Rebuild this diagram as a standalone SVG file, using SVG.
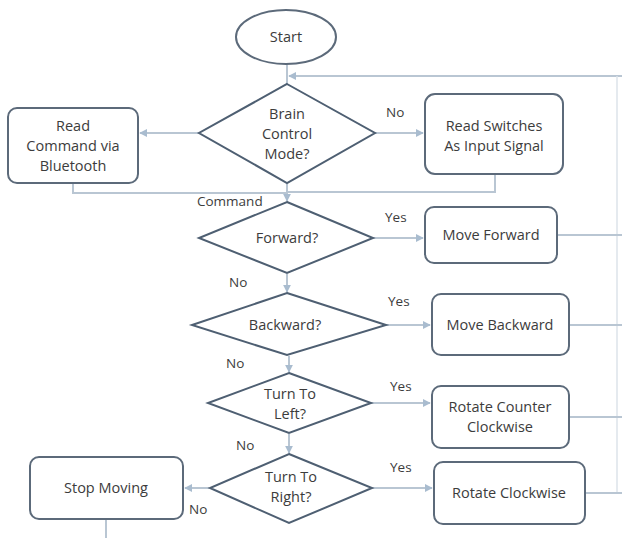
<svg xmlns="http://www.w3.org/2000/svg" width="622" height="538" viewBox="0 0 622 538">
<defs>
<style>
.bg{fill:#ffffff}
.box{fill:#ffffff;stroke:#5c6a7a;stroke-width:2}
.dia{fill:#ffffff;stroke:#4e5f72;stroke-width:2}
.t{font-family:"Open Sans","Noto Sans",sans-serif;font-size:14.5px;fill:#3c3c3c;text-anchor:middle}
.l{font-family:"Open Sans","Noto Sans",sans-serif;font-size:13.5px;fill:#3c3c3c}
.c{fill:none;stroke:#b9c6d3;stroke-width:2}
.f{fill:none;stroke:#dde3ea;stroke-width:1.5}
.ca{fill:none;stroke:#b9c6d3;stroke-width:2;marker-end:url(#ah)}
</style>
<marker id="ah" viewBox="0 0 10 10" refX="9" refY="5" markerWidth="4" markerHeight="4" orient="auto" markerUnits="strokeWidth">
<path d="M0,0 L10,5 L0,10 Z" fill="#a9bccf"/>
</marker>
</defs>
<rect class="bg" x="0" y="0" width="622" height="538"/>
<g id="connectors">
<path class="c" d="M287,64 L287,84"/>
<path class="ca" d="M622,76 L289,76"/>
<path class="f" d="M617,76 L617,493"/>
<path class="ca" d="M199,133 L140,133"/>
<path class="ca" d="M373,133 L423,133"/>
<path class="c" d="M73,184 L73,193 L287,193"/>
<path class="c" d="M495,175 L495,192 L287,192"/>
<path class="ca" d="M287,184 L287,201"/>
<path class="ca" d="M373,238 L423,238"/>
<path class="c" d="M558,235 L622,235"/>
<path class="ca" d="M287,274 L287,292"/>
<path class="ca" d="M386,325 L430,325"/>
<path class="c" d="M570,325 L622,325"/>
<path class="ca" d="M289,356 L289,372"/>
<path class="ca" d="M371,403 L430,403"/>
<path class="c" d="M570,417 L622,417"/>
<path class="ca" d="M289,434 L289,453"/>
<path class="ca" d="M372,488 L432,488"/>
<path class="c" d="M586,493 L622,493"/>
<path class="ca" d="M209,488 L185,488"/>
<path class="c" d="M106,520 L106,538"/>
</g>
<g id="labels">
<text class="l" x="386" y="117">No</text>
<text class="l" x="197" y="206">Command</text>
<text class="l" x="385" y="222">Yes</text>
<text class="l" x="229" y="287">No</text>
<text class="l" x="388" y="306">Yes</text>
<text class="l" x="226" y="368">No</text>
<text class="l" x="390" y="391">Yes</text>
<text class="l" x="236" y="450">No</text>
<text class="l" x="390" y="472">Yes</text>
<text class="l" x="189" y="514">No</text>
</g>
<g id="start">
<ellipse class="box" cx="286" cy="37" rx="50" ry="27"/>
<text class="t" x="286" y="42">Start</text>
</g>
<g id="brain">
<polygon class="dia" points="287,84 375,133 287,183 199,133"/>
<text class="t" x="287" y="119">Brain</text>
<text class="t" x="287" y="139">Control</text>
<text class="t" x="287" y="159">Mode?</text>
</g>
<g id="readCommand">
<rect class="box" x="8" y="108" width="130" height="75" rx="9"/>
<text class="t" x="73" y="131">Read</text>
<text class="t" x="73" y="151">Command via</text>
<text class="t" x="73" y="171">Bluetooth</text>
</g>
<g id="readSwitches">
<rect class="box" x="425" y="94" width="138" height="80" rx="10"/>
<text class="t" x="494" y="131">Read Switches</text>
<text class="t" x="494" y="151">As Input Signal</text>
</g>
<g id="forward">
<polygon class="dia" points="287,202 373,238 287,273 199,238"/>
<text class="t" x="287" y="243">Forward?</text>
</g>
<g id="moveForward">
<rect class="box" x="425" y="207" width="132" height="56" rx="9"/>
<text class="t" x="491" y="240">Move Forward</text>
</g>
<g id="backward">
<polygon class="dia" points="287,293 386,325 287,355 192,325"/>
<text class="t" x="285" y="330">Backward?</text>
</g>
<g id="moveBackward">
<rect class="box" x="432" y="294" width="137" height="61" rx="9"/>
<text class="t" x="500" y="330">Move Backward</text>
</g>
<g id="turnLeft">
<polygon class="dia" points="289,373 371,403 289,433 208,403"/>
<text class="t" x="290" y="399">Turn To</text>
<text class="t" x="290" y="419">Left?</text>
</g>
<g id="rotateCCW">
<rect class="box" x="432" y="386" width="137" height="62" rx="9"/>
<text class="t" x="500" y="412">Rotate Counter</text>
<text class="t" x="500" y="432">Clockwise</text>
</g>
<g id="turnRight">
<polygon class="dia" points="289,454 372,488 289,523 210,488"/>
<text class="t" x="291" y="482">Turn To</text>
<text class="t" x="291" y="502">Right?</text>
</g>
<g id="rotateCW">
<rect class="box" x="434" y="462" width="151" height="62" rx="9"/>
<text class="t" x="509" y="498">Rotate Clockwise</text>
</g>
<g id="stopMoving">
<rect class="box" x="30" y="457" width="153" height="62" rx="9"/>
<text class="t" x="106" y="493">Stop Moving</text>
</g>
</svg>
